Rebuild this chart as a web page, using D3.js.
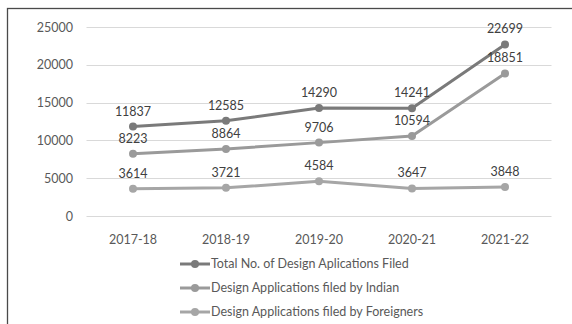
<!DOCTYPE html>
<html>
<head>
<meta charset="utf-8">
<script src="https://cdn.jsdelivr.net/npm/d3@7"></script>
<style>
  html, body { margin: 0; padding: 0; background: #fff; }
  svg { display: block; }
  text { font-family: Lato, "Open Sans", sans-serif; }
</style>
</head>
<body>
<svg id="chart" width="572" height="324"></svg>
<script>
// Fiscal years on the x axis
const years = ["2017-18", "2018-19", "2019-20", "2020-21", "2021-22"];
// Applications filed per year
const totalFiled = [11837, 12585, 14290, 14241, 22699];
const indianFiled = [8223, 8864, 9706, 10594, 18851];
const foreignFiled = [3614, 3721, 4584, 3647, 3848];
const yTicks = [0, 5000, 10000, 15000, 20000, 25000];

const seriesNames = [
  "Total No. of Design Aplications Filed",
  "Design Applications filed by Indian",
  "Design Applications filed by Foreigners"
];
const seriesValues = [totalFiled, indianFiled, foreignFiled];
const seriesColors = ["#7a7a7a", "#9a9a9a", "#a6a6a6"];

const svg = d3.select("#chart");

// Chart frame
svg.append("rect")
  .attr("x", 7.5).attr("y", 8.5)
  .attr("width", 580).attr("height", 330)
  .attr("fill", "none").attr("stroke", "#4a4a4a").attr("stroke-width", 1.3);

const x = d3.scaleBand().domain(years).range([86.5, 551.5]);
const y = d3.scaleLinear().domain([0, 25000]).range([216, 27]);

// Horizontal gridlines
svg.append("g").selectAll("line").data(yTicks).join("line")
  .attr("x1", 86.5).attr("x2", 551.5)
  .attr("y1", d => Math.round(y(d)) + 0.5).attr("y2", d => Math.round(y(d)) + 0.5)
  .attr("stroke", "#d9d9d9").attr("stroke-width", 1);

// Y axis labels
const yAxis = d3.axisLeft(y).tickValues(yTicks).tickFormat(d3.format("d")).tickSize(0).tickPadding(0);
svg.append("g").attr("transform", "translate(73,0)").call(yAxis)
  .call(g => g.select(".domain").remove())
  .selectAll("text")
  .attr("font-size", 12.5).attr("fill", "#595959")
  .style("font-family", "Lato, 'Open Sans', sans-serif");

// X axis labels
const xAxis = d3.axisBottom(x).tickSize(0).tickPadding(0);
svg.append("g").attr("transform", "translate(0,235)").call(xAxis)
  .call(g => g.select(".domain").remove())
  .selectAll("text")
  .attr("font-size", 12.5).attr("fill", "#595959")
  .style("font-family", "Lato, 'Open Sans', sans-serif");

const cx = d => x(d) + x.bandwidth() / 2;
const line = d3.line().x((d, i) => cx(years[i])).y(d => y(d));

// Lines, markers and value labels (drawn bottom series first)
[2, 1, 0].forEach(s => {
  const vals = seriesValues[s];
  const g = svg.append("g");
  g.append("path").datum(vals)
    .attr("d", line)
    .attr("fill", "none")
    .attr("stroke", seriesColors[s])
    .attr("stroke-width", 3)
    .attr("stroke-linejoin", "round");
  g.selectAll("circle").data(vals).join("circle")
    .attr("cx", (d, i) => cx(years[i]))
    .attr("cy", d => y(d))
    .attr("r", 4)
    .attr("fill", seriesColors[s]);
});
[0, 1, 2].forEach(s => {
  svg.append("g").selectAll("text").data(seriesValues[s]).join("text")
    .attr("x", (d, i) => cx(years[i]))
    .attr("y", d => y(d) - 11)
    .attr("text-anchor", "middle")
    .attr("font-size", 12.5)
    .attr("fill", "#404040")
    .text(d => d);
});

// Legend
const legend = svg.append("g");
seriesNames.forEach((name, i) => {
  const ly = 264 + i * 24;
  legend.append("line")
    .attr("x1", 180).attr("x2", 210).attr("y1", ly).attr("y2", ly)
    .attr("stroke", seriesColors[i]).attr("stroke-width", 3);
  legend.append("circle")
    .attr("cx", 195).attr("cy", ly).attr("r", 4)
    .attr("fill", seriesColors[i]);
  legend.append("text")
    .attr("x", 211).attr("y", ly).attr("dy", "0.35em")
    .attr("font-size", 12.5).attr("fill", "#595959")
    .text(name);
});
</script>
</body>
</html>
